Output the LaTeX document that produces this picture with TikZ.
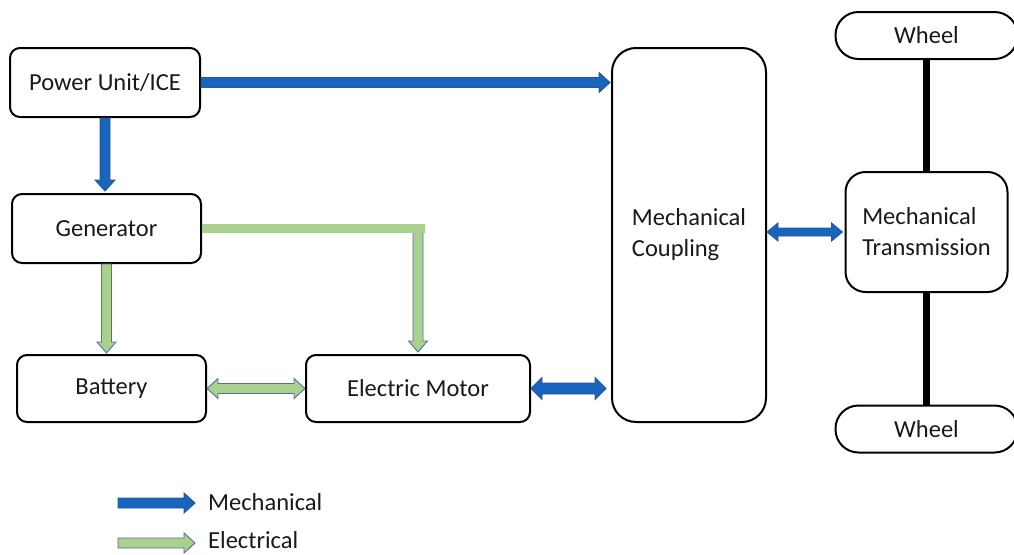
\documentclass[tikz,border=0pt]{standalone}
\usepackage{fontspec}
\setmainfont{Carlito}
\usetikzlibrary{calc}
\definecolor{mech}{RGB}{24,101,190}
\definecolor{mechd}{RGB}{44,84,150}
\definecolor{elec}{RGB}{169,209,142}
\definecolor{elecd}{RGB}{84,112,152}
% single block arrow: from, to, fill, draw, shaft half width, head half width
\newcommand\sarrow[6]{%
  \path #1 coordinate (bkA) #2 coordinate (bkB);
  \path ($(bkB)!11pt!(bkA)$) coordinate (bkH);
  \filldraw[fill=#3,draw=#4,line width=0.9pt,line join=miter]
    ($(bkA)!#5!90:(bkB)$) -- ($(bkH)!#5!90:(bkB)$) -- ($(bkH)!#6!90:(bkB)$) -- (bkB)
    -- ($(bkH)!#6!-90:(bkB)$) -- ($(bkH)!#5!-90:(bkB)$) -- ($(bkA)!#5!-90:(bkB)$) -- cycle;}
% double block arrow
\newcommand\darrow[6]{%
  \path #1 coordinate (bkA) #2 coordinate (bkB);
  \path ($(bkB)!11pt!(bkA)$) coordinate (bkH);
  \path ($(bkA)!11pt!(bkB)$) coordinate (bkG);
  \filldraw[fill=#3,draw=#4,line width=0.9pt,line join=miter]
    (bkA) -- ($(bkG)!#6!90:(bkB)$) -- ($(bkG)!#5!90:(bkB)$) -- ($(bkH)!#5!90:(bkB)$) -- ($(bkH)!#6!90:(bkB)$) -- (bkB)
    -- ($(bkH)!#6!-90:(bkB)$) -- ($(bkH)!#5!-90:(bkB)$) -- ($(bkG)!#5!-90:(bkB)$) -- ($(bkG)!#6!-90:(bkB)$) -- cycle;}
\tikzset{
  every node/.style={font=\fontsize{24.5}{31}\selectfont, text=black!90},
  box/.style={draw=black, line width=2pt, rounded corners=10pt, fill=white, inner sep=0pt},
  wheel/.style={box, rounded corners=23pt, minimum width=182pt, minimum height=47pt},
  axle/.style={line width=7pt, black},
  legtext/.style={anchor=west, inner sep=0pt}
}
\begin{document}
\begin{tikzpicture}[x=1pt,y=-1pt]
\useasboundingbox (0,0) rectangle (1014,554);
% nodes
\node[box, minimum width=190pt, minimum height=69pt] (ice) at (105,82.5) {Power Unit/ICE};
\node[box, minimum width=189pt, minimum height=69pt] (gen) at (106.5,228.5) {Generator};
\node[box, minimum width=189pt, minimum height=67pt] (bat) at (111.5,388.5) {\raisebox{-2pt}{Battery}};
\node[box, minimum width=224pt, minimum height=67pt] (mot) at (418,388.5) {Electric Motor};
\node[box, rounded corners=24pt, minimum width=154pt, minimum height=374pt, align=left] (cpl) at (689,235) {Mechanical\\Coupling};
\node[box, rounded corners=20pt, minimum width=162pt, minimum height=120pt, align=left] (trn) at (926.5,232) {Mechanical\\Transmission};
\node[wheel] (wt) at (926.5,35.5) {Wheel};
\node[wheel] (wb) at (926.5,429) {Wheel};
% axles
\draw[axle] (wt.south) -- (trn.north);
\draw[axle] (trn.south) -- (wb.north);
% mechanical arrows
\sarrow{(ice.east)}{($(cpl.west |- ice.east)+(-1,0)$)}{mech}{mechd}{5pt}{10pt}
\sarrow{(ice.south)}{($(gen.north -| ice.south)+(0,-2)$)}{mech}{mechd}{5pt}{10pt}
\darrow{(mot.east)}{($(cpl.west |- mot.east)+(-5,0)$)}{mech}{mechd}{5.5pt}{11pt}
\darrow{(cpl.east |- trn.west)}{($(trn.west)+(-2,0)$)}{mech}{mechd}{4pt}{9pt}
% electrical arrows
\coordinate (gm) at (mot.north |- gen.east);
\sarrow{(gm)}{($(mot.north)+(0,-2)$)}{elec}{elecd}{5pt}{9.5pt}
\draw[elec, line width=9pt] (gen.east) -- ($(gm)+(7,0)$);
\sarrow{(gen.south)}{($(bat.north -| gen.south)+(0,-1)$)}{elec}{elecd}{5pt}{9.5pt}
\darrow{(bat.east)}{(mot.west)}{elec}{elecd}{5pt}{10pt}
% legend
\coordinate (lm1) at (118,503);
\coordinate (lm2) at (195,503);
\coordinate (le1) at (118,543);
\coordinate (le2) at (195,543);
\sarrow{(lm1)}{(lm2)}{mech}{mechd}{5pt}{10pt}
\sarrow{(le1)}{(le2)}{elec}{elecd}{5pt}{10pt}
\node[legtext] (lmt) at (208,502) {Mechanical};
\node[legtext] (let) at (208,540.5) {Electrical};
\end{tikzpicture}
\end{document}
